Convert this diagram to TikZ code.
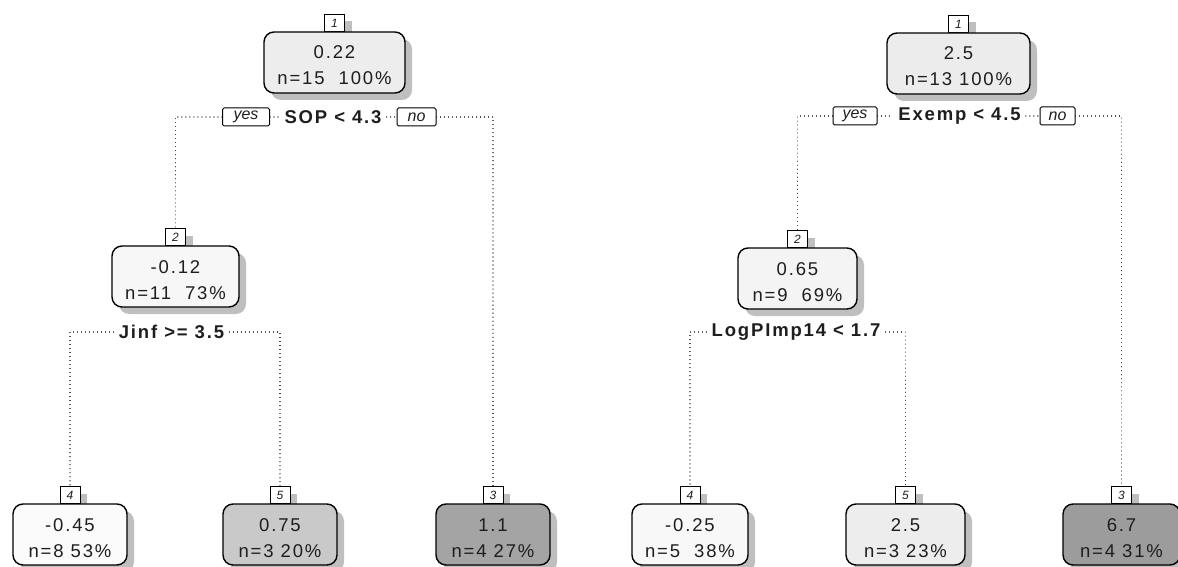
\documentclass[tikz,border=0pt]{standalone}
\usepackage{fontspec}
\setmainfont{Liberation Sans}
\newfontfamily\boxfont[LetterSpace=10]{Liberation Sans}
\usetikzlibrary{calc,shadows}
\definecolor{txt}{HTML}{1E1E1E}
\definecolor{fAR}{HTML}{EDEDED}
\definecolor{fA2}{HTML}{F7F7F7}
\definecolor{fA4}{HTML}{FBFBFB}
\definecolor{fA5}{HTML}{C9C9C9}
\definecolor{fA3}{HTML}{A4A4A4}
\definecolor{fBR}{HTML}{ECECEC}
\definecolor{fB2}{HTML}{F4F4F4}
\definecolor{fB4}{HTML}{F8F8F8}
\definecolor{fB5}{HTML}{EDEDED}
\definecolor{fB3}{HTML}{9C9C9C}
\tikzset{
  myshadow/.style={drop shadow={shadow xshift=7pt, shadow yshift=-7pt, opacity=1, fill=black!25}},
  nodebox/.style={draw=black, line width=1.4pt, rounded corners=10pt, minimum height=61pt, inner sep=0pt, outer sep=0pt, anchor=north, myshadow},
  tagbox/.style={draw=black, line width=1pt, fill=white, minimum width=20pt, minimum height=17pt, inner sep=0pt, anchor=south, font=\fontsize{12}{12}\selectfont\itshape, text=txt, myshadow},
  valtext/.style={anchor=base, inner sep=0pt, font=\boxfont\fontsize{18.5}{26}\selectfont, text=txt},
  ynbox/.style={draw=black, line width=1pt, fill=white, rounded corners=1.5pt, minimum height=18pt, inner sep=0pt, font=\fontsize{16}{16}\selectfont\itshape, text=txt},
  splittext/.style={inner sep=5pt, font=\boxfont\fontsize{18.5}{18}\selectfont\bfseries, text=txt},
  dotline/.style={draw=black!85, line width=1.1pt, line cap=round, dash pattern=on 0.01pt off 4pt}
}
\begin{document}
\begin{tikzpicture}[x=1pt, y=-1pt]
\useasboundingbox (0,0) rectangle (1178,567);

% ---------------- left tree ----------------
\coordinate (aRc) at (334.5,32);
\node[tagbox] (aRt) at (aRc) {1};
\node[nodebox, fill=fAR, minimum width=141pt] (aR) at (aRc) {};
\node[valtext] (aRv) at ($(aR.north)+(0,27)$) {0.22};
\node[valtext] (aRn) at ($(aR.north)+(0,53)$) {n=15 \ 100\%};

\node[ynbox, minimum width=47pt] (aY) at (246,117) {yes};
\node[splittext] (aS) at (333,117) {SOP < 4.3};
\node[ynbox, minimum width=39pt] (aN) at (416.5,117) {no};

\coordinate (a2c) at (175.5,246);
\node[tagbox] (a2t) at (a2c) {2};
\node[nodebox, fill=fA2, minimum width=127pt] (a2) at (a2c) {};
\node[valtext] (a2v) at ($(a2.north)+(0,27)$) {-0.12};
\node[valtext] (a2n) at ($(a2.north)+(0,53)$) {n=11 \ 73\%};

\node[splittext] (aJ) at (171.5,332) {Jinf >= 3.5};

\coordinate (a4c) at (70,504);
\node[tagbox] (a4t) at (a4c) {4};
\node[nodebox, fill=fA4, minimum width=114pt] (a4) at (a4c) {};
\node[valtext] (a4v) at ($(a4.north)+(0,27)$) {-0.45};
\node[valtext] (a4n) at ($(a4.north)+(0,53)$) {n=8 53\%};

\coordinate (a5c) at (280,504);
\node[tagbox] (a5t) at (a5c) {5};
\node[nodebox, fill=fA5, minimum width=114pt] (a5) at (a5c) {};
\node[valtext] (a5v) at ($(a5.north)+(0,27)$) {0.75};
\node[valtext] (a5n) at ($(a5.north)+(0,53)$) {n=3 20\%};

\coordinate (a3c) at (493,504);
\node[tagbox] (a3t) at (a3c) {3};
\node[nodebox, fill=fA3, minimum width=114pt] (a3) at (a3c) {};
\node[valtext] (a3v) at ($(a3.north)+(0,27)$) {1.1};
\node[valtext] (a3n) at ($(a3.north)+(0,53)$) {n=4 27\%};

\draw[dotline] (aY.west) -| (a2t.north);
\draw[dotline] (aY.east) -- (aS.west);
\draw[dotline] (aS.east) -- (aN.west);
\draw[dotline] (aN.east) -| (a3t.north);
\draw[dotline] (aJ.west) -| (a4t.north);
\draw[dotline] (aJ.east) -| (a5t.north);

% ---------------- right tree ----------------
\coordinate (bRc) at (958.5,33);
\node[tagbox] (bRt) at (bRc) {1};
\node[nodebox, fill=fBR, minimum width=143pt] (bR) at (bRc) {};
\node[valtext] (bRv) at ($(bR.north)+(0,27)$) {2.5};
\node[valtext] (bRn) at ($(bR.north)+(0,53)$) {n=13 100\%};

\node[ynbox, minimum width=44pt] (bY) at (855,116) {yes};
\node[splittext] (bS) at (959.5,116) {Exemp < 4.5};
\node[ynbox, minimum width=35pt] (bN) at (1057.5,116) {no};

\coordinate (b2c) at (797.5,248);
\node[tagbox] (b2t) at (b2c) {2};
\node[nodebox, fill=fB2, minimum width=119pt] (b2) at (b2c) {};
\node[valtext] (b2v) at ($(b2.north)+(0,27)$) {0.65};
\node[valtext] (b2n) at ($(b2.north)+(0,53)$) {n=9 \ 69\%};

\node[splittext] (bL) at (796,332) {LogPImp14 < 1.7};

\coordinate (b4c) at (690,504);
\node[tagbox] (b4t) at (b4c) {4};
\node[nodebox, fill=fB4, minimum width=116pt] (b4) at (b4c) {};
\node[valtext] (b4v) at ($(b4.north)+(0,27)$) {-0.25};
\node[valtext] (b4n) at ($(b4.north)+(0,53)$) {n=5 \ 38\%};

\coordinate (b5c) at (905.5,504);
\node[tagbox] (b5t) at (b5c) {5};
\node[nodebox, fill=fB5, minimum width=119pt] (b5) at (b5c) {};
\node[valtext] (b5v) at ($(b5.north)+(0,27)$) {2.5};
\node[valtext] (b5n) at ($(b5.north)+(0,53)$) {n=3 23\%};

\coordinate (b3c) at (1121.5,504);
\node[tagbox] (b3t) at (b3c) {3};
\node[nodebox, fill=fB3, minimum width=117pt] (b3) at (b3c) {};
\node[valtext] (b3v) at ($(b3.north)+(0,27)$) {6.7};
\node[valtext] (b3n) at ($(b3.north)+(0,53)$) {n=4 31\%};

\draw[dotline] (bY.west) -| (b2t.north);
\draw[dotline] (bY.east) -- (bS.west);
\draw[dotline] (bS.east) -- (bN.west);
\draw[dotline] (bN.east) -| (b3t.north);
\draw[dotline] (bL.west) -| (b4t.north);
\draw[dotline] (bL.east) -| (b5t.north);
\end{tikzpicture}
\end{document}
